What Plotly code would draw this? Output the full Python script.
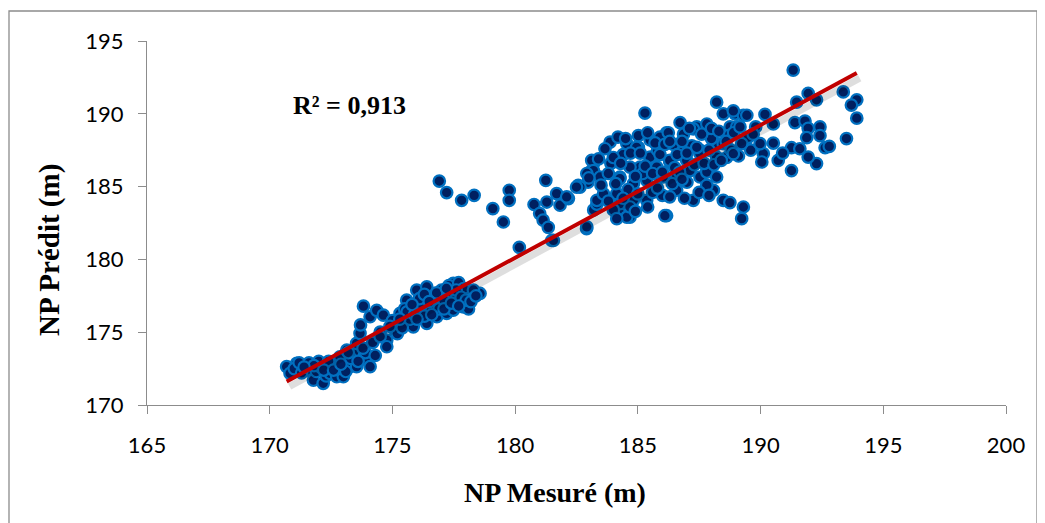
import numpy as np
import plotly.graph_objects as go

# NP Mesuré (m)
x_mes = [
    170.69, 170.83, 171.10, 171.00, 171.20, 171.51, 171.60, 171.78, 171.90, 172.05, 172.00, 172.18, 172.30,
    172.46, 172.59, 172.73, 172.86, 173.00, 173.14, 173.27, 173.41, 173.54, 173.54, 173.68, 173.82, 173.95,
    174.09, 174.09, 174.36, 174.63, 174.77, 174.77, 173.30, 172.80, 173.90, 174.30, 172.40, 173.70,
    171.30, 171.80, 172.20, 172.60, 173.10, 173.60, 173.80, 174.20, 174.50, 173.20, 172.90, 171.40,
    175.11, 175.31, 175.31, 175.58, 175.85, 175.99, 175.99, 176.12, 176.40, 176.40, 176.53, 176.81, 176.94,
    177.21, 177.21, 177.48, 177.48, 177.89, 178.03, 178.57, 175.00, 175.50, 176.20, 176.70, 177.00, 177.30,
    177.70, 177.90, 178.30, 177.60, 176.90, 176.30, 175.70, 178.10, 177.10, 174.50, 175.20, 174.90,
    175.40, 175.60, 175.90, 176.10, 176.60, 176.80, 177.10, 177.40, 177.60, 177.80, 178.00, 178.20, 176.30,
    176.50, 175.80, 177.20, 177.70, 178.40, 175.30, 176.00,
    176.91, 177.21, 177.82, 178.33, 179.09, 179.52, 179.76, 179.76, 180.17, 180.77, 181.25, 181.00, 181.14,
    181.35, 181.49, 181.29, 181.69, 181.83,
    182.17, 182.57, 182.91, 182.97, 183.05, 183.20, 183.20, 183.87, 184.19, 183.66, 183.12, 182.64, 182.10,
    183.19, 184.27, 183.33, 184.27, 182.92, 184.68, 185.02, 185.50, 185.50, 184.95, 185.90, 186.17, 186.72,
    186.86, 186.45, 186.86, 186.30, 185.36, 186.17, 186.58, 187.26, 187.40, 187.94, 187.81, 187.53, 188.21,
    187.53, 188.08, 188.48, 188.21, 188.48, 188.76, 188.62, 187.81, 186.99, 185.29,
    182.92, 181.56, 183.33, 184.55, 185.02, 184.95, 185.90, 186.24, 187.26, 188.96, 189.30, 189.03, 189.37,
    188.48, 188.21, 187.53, 186.30, 185.50, 185.77, 185.09, 184.68, 184.27, 184.82, 185.36, 186.04, 186.58,
    187.13, 187.81, 188.21, 187.81, 184.82, 184.14, 184.27, 184.00, 184.55, 184.14, 184.68, 186.10, 189.30,
    189.23, 183.46, 182.50, 183.60, 184.40, 185.80, 186.60, 187.20, 188.00, 185.20, 186.00, 187.00, 183.90,
    184.60, 185.60, 186.90, 187.50, 188.70,
    183.00, 183.40, 183.50, 183.80, 184.00, 184.10, 184.30, 184.50, 184.70, 184.90, 185.10, 185.30, 185.40,
    185.60, 185.70, 185.90, 186.00, 186.10, 186.30, 186.40, 186.50, 186.70, 186.80, 187.00, 187.10, 187.30,
    187.40, 187.60, 187.70, 187.90, 188.00, 188.10, 188.30, 188.40, 188.60, 188.80, 188.90, 189.10, 189.50,
    189.60, 189.80, 185.00, 185.80, 186.30, 184.40, 183.80, 187.90, 186.80, 185.40, 184.90,
    191.33, 193.37, 193.92, 193.70, 193.92, 193.50, 191.94, 192.28, 191.47, 191.40, 191.81, 191.94, 192.42,
    191.88, 192.42, 192.63, 192.80, 192.28, 191.94, 191.26, 191.60, 191.26, 190.52, 190.18, 190.52, 190.72,
    190.11, 189.98, 190.05, 189.44, 189.16, 188.89, 189.23, 188.89, 188.75, 190.90, 189.70,
]

# NP Prédit (m)
y_pred = [
    172.63, 172.17, 172.86, 172.50, 172.90, 172.40, 172.90, 171.71, 172.30, 172.63, 173.00, 171.49, 172.00,
    172.17, 172.86, 171.94, 173.31, 171.94, 173.77, 172.63, 173.55, 172.63, 174.23, 174.92, 176.79, 173.09,
    172.63, 176.06, 176.50, 176.17, 174.46, 174.00, 173.20, 172.50, 173.60, 173.40, 173.00, 175.50,
    172.20, 172.70, 172.40, 172.40, 172.30, 173.00, 173.90, 174.30, 175.00, 173.60, 172.80, 172.60,
    175.14, 176.29, 175.60, 177.20, 175.37, 177.89, 176.98, 176.29, 178.11, 175.60, 176.74, 176.06, 176.98,
    177.66, 176.29, 178.35, 176.52, 176.74, 177.89, 177.66, 175.80, 176.60, 176.90, 177.40, 177.90, 178.20,
    178.40, 178.00, 177.90, 177.30, 176.60, 176.10, 175.90, 176.60, 177.20, 174.70, 174.90, 175.40,
    175.30, 176.40, 176.20, 177.30, 176.20, 177.70, 176.60, 177.00, 177.90, 177.40, 177.20, 177.10, 177.60,
    177.10, 176.90, 178.00, 176.80, 177.50, 175.90, 175.90,
    185.38, 184.59, 184.06, 184.40, 183.49, 182.57, 184.75, 184.06, 180.82, 183.77, 185.43, 183.15, 182.70,
    182.20, 181.30, 183.94, 184.52, 183.72,
    184.18, 185.09, 182.11, 185.30, 186.00, 183.40, 186.60, 188.06, 188.40, 187.60, 186.80, 184.97, 184.29,
    186.10, 185.66, 183.80, 183.15, 182.23, 182.90, 187.70, 188.20, 186.80, 186.10, 185.66, 188.70, 189.40,
    188.60, 187.90, 187.50, 186.70, 184.06, 183.00, 184.75, 184.06, 189.10, 188.60, 189.30, 187.50, 187.90,
    185.66, 184.75, 184.06, 190.80, 190.00, 189.10, 187.00, 186.10, 186.80, 190.05,
    185.90, 181.30, 184.06, 187.95, 188.50, 187.70, 188.40, 188.70, 188.96, 190.00, 189.90, 189.10, 187.95,
    187.95, 187.03, 187.26, 186.80, 187.03, 186.34, 186.34, 186.34, 185.55, 185.20, 185.43, 185.66, 185.66,
    186.10, 186.00, 185.66, 185.09, 184.06, 184.52, 183.83, 183.40, 182.90, 182.80, 183.60, 183.00, 183.60,
    182.80, 185.66, 184.97, 184.50, 187.20, 187.50, 187.20, 187.80, 188.30, 185.90, 184.40, 185.30, 186.60,
    184.80, 184.60, 184.20, 184.60, 188.50,
    185.60, 186.90, 185.10, 185.90, 187.00, 185.20, 186.60, 188.30, 187.30, 185.70, 187.30, 186.40, 188.70,
    185.90, 188.00, 187.20, 186.00, 187.90, 188.10, 185.20, 186.30, 186.00, 188.10, 187.30, 189.00, 186.50,
    187.70, 188.60, 186.60, 187.50, 189.00, 186.50, 188.80, 186.80, 188.10, 187.50, 188.70, 187.10, 188.40,
    187.50, 189.10, 184.50, 184.90, 184.30, 184.20, 184.00, 184.40, 185.50, 183.60, 183.30,
    193.00, 191.50, 190.96, 190.60, 189.70, 188.30, 191.40, 190.96, 190.80, 189.40, 189.50, 189.00, 189.10,
    188.36, 188.50, 187.67, 187.76, 186.58, 187.03, 187.67, 187.60, 186.10, 189.30, 189.96, 187.99, 186.80,
    187.26, 187.95, 186.69, 189.90, 189.10, 190.20, 187.95, 187.26, 183.90, 187.30, 188.60,
]

# linear trend line (y = a*x + b)
trend_slope = 0.912
trend_intercept = 15.95

x_ticks = [165, 170, 175, 180, 185, 190, 195, 200]
y_ticks = [170, 175, 180, 185, 190, 195]
r2_label = "R² = 0,913"
x_title = "NP Mesuré (m)"
y_title = "NP Prédit (m)"

xa = np.array(x_mes)
ya = np.array(y_pred)
tx = np.array([xa.min(), xa.max()])
ty = trend_slope * tx + trend_intercept

fig = go.Figure()

fig.add_trace(go.Scatter(
    x=xa, y=ya, mode="markers",
    marker=dict(size=11.5, color="#002060", line=dict(color="#0070C0", width=2.2)),
    showlegend=False, hoverinfo="skip",
))
# soft shadow of the trend line
fig.add_trace(go.Scatter(
    x=tx + 0.12, y=ty - 0.35, mode="lines",
    line=dict(color="rgba(0,0,0,0.13)", width=7),
    showlegend=False, hoverinfo="skip",
))
fig.add_trace(go.Scatter(
    x=tx, y=ty, mode="lines",
    line=dict(color="#C00000", width=4),
    showlegend=False, hoverinfo="skip",
))

axis_common = dict(
    showgrid=False, zeroline=False, showline=True, linecolor="#8C8C8C", linewidth=1.3,
    ticks="outside", ticklen=8, tickcolor="#8C8C8C", tickwidth=1.3,
    tickfont=dict(family="Lato", size=22, color="#000000"),
)

# page has an 8 px body margin; figure pixel positions below are offset for it
L, T, B, R = 139, 33, 126, 47
PW = 1045 - L - R
PH = 523 - T - B


def px(xp):
    return (xp - 8 - L) / PW


def py(yp):
    return (523 - B - (yp - 8)) / PH


fig.update_layout(
    width=1045, height=523,
    margin=dict(l=L, r=R, t=T, b=B),
    paper_bgcolor="white", plot_bgcolor="white",
    xaxis=dict(range=[165, 200], tickvals=x_ticks, ticklabelstandoff=12, **axis_common),
    yaxis=dict(range=[170, 195], tickvals=y_ticks, ticklabelstandoff=10, **axis_common),
    shapes=[dict(type="rect", xref="paper", yref="paper",
                 x0=px(9), x1=px(1037), y0=py(540), y1=py(11),
                 line=dict(color="#8C8C8C", width=1.3), fillcolor="rgba(0,0,0,0)", layer="above")],
    annotations=[
        dict(text="<b>" + r2_label + "</b>", x=px(349), y=py(105), xref="paper", yref="paper",
             xanchor="center", yanchor="middle", showarrow=False,
             font=dict(family="Liberation Serif", size=26, color="#000000")),
        dict(text="<b>" + x_title + "</b>", x=px(555), y=py(492),
             xref="paper", yref="paper", showarrow=False, xanchor="center", yanchor="middle",
             font=dict(family="Liberation Serif", size=28, color="#000000")),
        dict(text="<b>" + y_title + "</b>", x=px(50), y=py(250),
             xref="paper", yref="paper", showarrow=False, textangle=-90,
             xanchor="center", yanchor="middle",
             font=dict(family="Liberation Serif", size=29, color="#000000")),
    ],
)

fig.write_html("out.html")
